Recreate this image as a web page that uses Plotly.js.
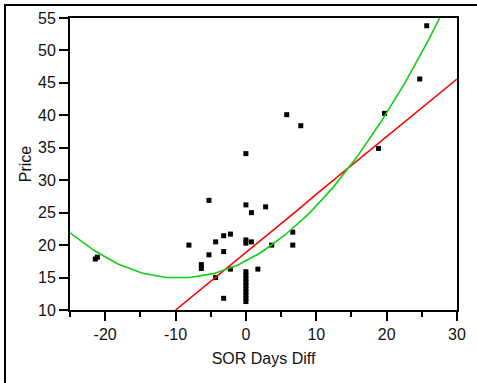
<!DOCTYPE html>
<html>
<head>
<meta charset="utf-8">
<script src="https://cdn.plot.ly/plotly-3.0.1.min.js"></script>
<style>
  html, body { margin: 0; padding: 0; background: #fff; }
  #wrap { position: relative; width: 477px; height: 383px; overflow: hidden; }
  #chart { width: 477px; height: 383px; }
  #frame { position: absolute; left: 4px; top: 4px; width: 480px; height: 390px;
           border-top: 2px solid #000; border-left: 2px solid #000; pointer-events: none; }
</style>
</head>
<body>
<div id="wrap">
  <div id="chart"></div>
  <div id="frame"></div>
</div>
<script>
// Observed points: SOR Days Diff vs Price
const sorDaysDiff = [
  25.7, 24.7, 19.7, 18.85, 5.8, 7.8, 0, -5.25, 0, 0.78, 2.8,
  -2.2, -3.16, -4.3, 0, 0, 0.78, -8.1, 6.66, 3.67, 6.66,
  -3.16, -5.25, -6.33, -6.33, -2.2, 1.7, -4.3, -3.16,
  -21.4, -21.1,
  0, 0, 0, 0, 0, 0, 0, 0, 0, 0
];
const price = [
  53.8, 45.6, 40.3, 34.9, 40.1, 38.4, 34.1, 26.9, 26.2, 25.0, 25.9,
  21.7, 21.45, 20.5, 20.8, 20.3, 20.5, 20.0, 22.0, 20.0, 20.0,
  19.0, 18.5, 17.0, 16.4, 16.3, 16.3, 15.0, 11.8,
  17.85, 18.15,
  11.3, 11.8, 12.3, 12.8, 13.3, 13.8, 14.3, 14.8, 15.3, 15.9
];

// Linear fit line
const linFitX = [-10, -6.6, -3.2, 0.2, 3.6, 7.0, 10.4, 13.8, 17.2, 20.6, 24.0, 27.4, 30];
const linFitY = [10.0, 13.0, 16.1, 19.1, 22.1, 25.1, 28.2, 31.2, 34.2, 37.2, 40.3, 43.3, 45.6];

// Quadratic fit curve
const quadFitX = [-25, -21.6, -18.2, -14.8, -11.4, -8.0, -4.6, -1.2, 2.2, 5.6, 9.0, 12.4, 15.8, 19.2, 22.6, 26.0, 28.5];
const quadFitY = [21.9, 19.2, 17.1, 15.7, 15.0, 15.0, 15.6, 16.9, 18.9, 21.6, 24.9, 28.9, 33.6, 39.0, 45.0, 51.7, 57.1];

// Tick labels
const xTickVals = [-20, -10, 0, 10, 20, 30];
const xTickText = ['-20', '-10', '0', '10', '20', '30'];
const yTickVals = [10, 15, 20, 25, 30, 35, 40, 45, 50, 55];
const yTickText = ['10', '15', '20', '25', '30', '35', '40', '45', '50', '55'];

const font = { family: 'Liberation Sans, Arial, sans-serif', size: 16, color: '#111' };

const traces = [
  {
    x: sorDaysDiff, y: price, type: 'scatter', mode: 'markers',
    marker: { symbol: 'square', size: 5, color: '#000' },
    hoverinfo: 'x+y', cliponaxis: true
  },
  {
    x: linFitX, y: linFitY, type: 'scatter', mode: 'lines',
    line: { color: 'rgb(255,0,0)', width: 1.6 }
  },
  {
    x: quadFitX, y: quadFitY, type: 'scatter', mode: 'lines',
    line: { color: 'rgb(20,205,20)', width: 1.6 }
  }
];

const layout = {
  width: 477, height: 383,
  margin: { l: 70, r: 20, t: 18, b: 73, pad: 0 },
  paper_bgcolor: '#fff', plot_bgcolor: '#fff',
  showlegend: false,
  font: font,
  xaxis: {
    range: [-25, 30], tickmode: 'array', tickvals: xTickVals, ticktext: xTickText,
    ticks: 'outside', ticklen: 9, tickwidth: 2, tickcolor: '#000',
    minor: { ticks: 'outside', ticklen: 5, tickwidth: 2, tickcolor: '#000', tick0: -25, dtick: 5, showgrid: false },
    showline: true, linewidth: 2, linecolor: '#000', mirror: true,
    showgrid: false, zeroline: false,
    tickfont: font,
    title: { text: 'SOR Days Diff', font: font, standoff: 11 }
  },
  yaxis: {
    range: [10, 55], tickmode: 'array', tickvals: yTickVals, ticktext: yTickText,
    ticks: 'outside', ticklen: 9, tickwidth: 2, tickcolor: '#000',
    showline: true, linewidth: 2, linecolor: '#000', mirror: true,
    showgrid: false, zeroline: false,
    tickfont: font,
    title: { text: 'Price', font: font, standoff: 2 }
  }
};

Plotly.newPlot('chart', traces, layout, { staticPlot: true, displayModeBar: false });
</script>
</body>
</html>
